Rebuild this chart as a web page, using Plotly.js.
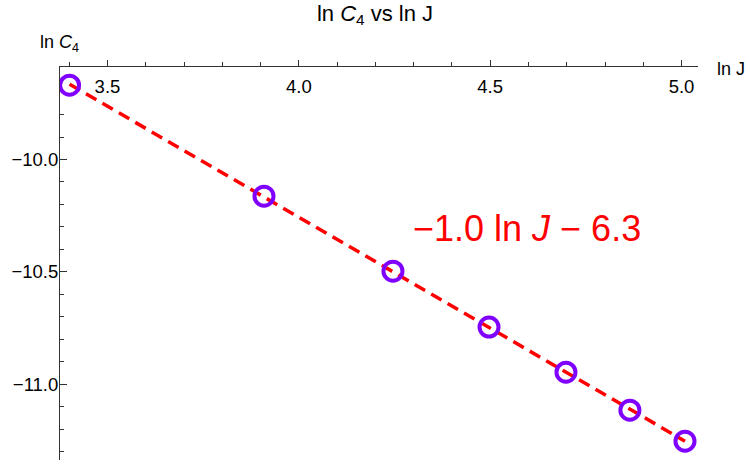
<!DOCTYPE html>
<html>
<head>
<meta charset="utf-8">
<script src="https://cdn.plot.ly/plotly-3.0.1.min.js"></script>
<style>html,body{margin:0;padding:0;background:#fff;}#chart{width:750px;height:465px;}</style>
</head>
<body>
<div id="chart"></div>
<script>
// Data: ln J and ln C4
const lnJ = [3.401, 3.909, 4.246, 4.497, 4.698, 4.865, 5.009];
const lnC4 = [-9.669, -10.163, -10.497, -10.746, -10.947, -11.116, -11.254];
const xTickVals = [3.5, 4.0, 4.5, 5.0];
const xTickText = ["3.5", "4.0", "4.5", "5.0"];
const yTickVals = [-10.0, -10.5, -11.0];
const yTickText = ["\u221210.0", "\u221210.5", "\u221211.0"];
const fitLabel = "\u22121.0 ln <i>J</i> \u2212 6.3";

// least-squares fit of the data
const n = lnJ.length;
const mx = lnJ.reduce((a, b) => a + b, 0) / n;
const my = lnC4.reduce((a, b) => a + b, 0) / n;
let sxy = 0, sxx = 0;
for (let i = 0; i < n; i++) { sxy += (lnJ[i] - mx) * (lnC4[i] - my); sxx += (lnJ[i] - mx) ** 2; }
const slope = sxy / sxx, intercept = my - slope * mx;
const fitX = [Math.min(...lnJ), Math.max(...lnJ)];
const fitY = fitX.map(x => slope * x + intercept);

const font = "Liberation Sans, Arial, sans-serif";
const traces = [
  { x: fitX, y: fitY, mode: "lines", type: "scatter",
    line: { color: "#ff0000", width: 3.5, dash: "12px,7px" }, hoverinfo: "skip" },
  { x: lnJ, y: lnC4, mode: "markers", type: "scatter",
    marker: { symbol: "circle-open", size: 19, color: "rgb(128,0,255)", line: { width: 4, color: "rgb(128,0,255)" } } }
];
const layout = {
  width: 750, height: 465,
  margin: { l: 60, r: 52, t: 67, b: 5 },
  paper_bgcolor: "#fff", plot_bgcolor: "#fff",
  showlegend: false,
  font: { family: font, size: 18, color: "#000" },
  title: { text: "ln <i>C</i><sub>4</sub> vs ln J", x: 0.5, xanchor: "center", y: 0.972, yanchor: "middle", font: { family: font, size: 22, color: "#000" } },
  xaxis: {
    range: [3.376, 5.043], side: "top", showgrid: false, zeroline: false,
    showline: true, linecolor: "#333", linewidth: 1,
    tickmode: "array", tickvals: xTickVals, ticktext: xTickText,
    ticks: "outside", ticklen: 6, tickcolor: "#333", tickwidth: 1,
    ticklabelposition: "inside", ticklabelstandoff: 14,
    tickfont: { family: font, size: 18.5, color: "#000" },
    minor: { dtick: 0.1, tick0: 3.5, ticks: "outside", ticklen: 4, tickcolor: "#333", tickwidth: 1, showgrid: false }
  },
  yaxis: {
    range: [-11.338, -9.588], showgrid: false, zeroline: false,
    showline: true, linecolor: "#333", linewidth: 1,
    tickmode: "array", tickvals: yTickVals, ticktext: yTickText,
    ticks: "inside", ticklen: 7, tickcolor: "#333", tickwidth: 1,
    ticklabelstandoff: -3,
    tickfont: { family: font, size: 18.5, color: "#000" },
    minor: { dtick: 0.1, tick0: -10, ticks: "inside", ticklen: 4, tickcolor: "#333", tickwidth: 1, showgrid: false }
  },
  annotations: [
    { text: "ln <i>C</i><sub>4</sub>", xref: "paper", yref: "paper", x: -0.034, y: 1.06, xanchor: "left", yanchor: "middle", showarrow: false, font: { family: font, size: 18, color: "#000" } },
    { text: "ln J", xref: "paper", yref: "paper", x: 1.026, y: 0.995, xanchor: "left", yanchor: "middle", showarrow: false, font: { family: font, size: 18, color: "#000" } },
    { text: fitLabel, xref: "x", yref: "y", x: 4.596, y: -10.306, xanchor: "center", yanchor: "middle", showarrow: false, font: { family: font, size: 36, color: "#ff0000" } }
  ]
};
Plotly.newPlot("chart", traces, layout, { displayModeBar: false, staticPlot: true });
</script>
</body>
</html>
